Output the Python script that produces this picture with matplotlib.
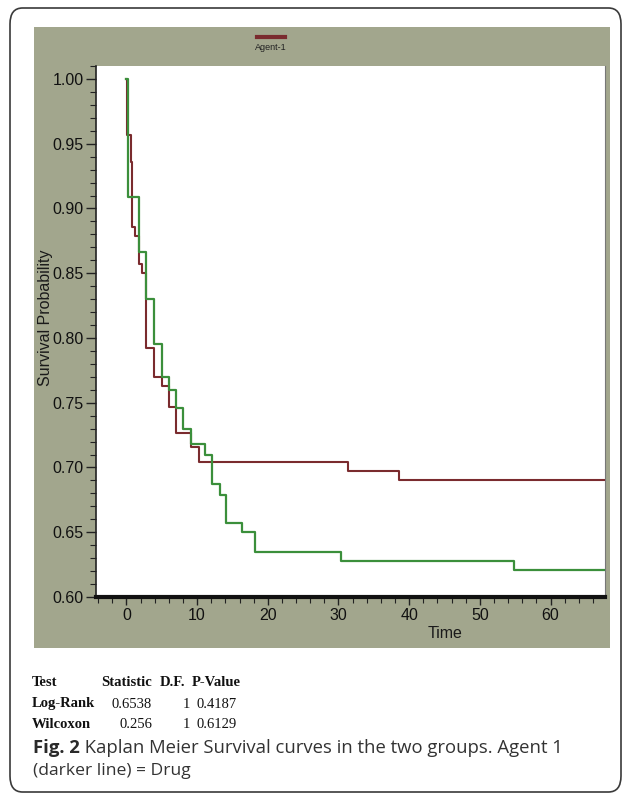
import matplotlib
matplotlib.use("Agg")
import matplotlib.pyplot as plt
from matplotlib.patches import Rectangle, FancyBboxPatch
from matplotlib.lines import Line2D
from matplotlib.ticker import MultipleLocator, FormatStrFormatter

# ---------------- data ----------------
agent1_time = [0, 0.05, 0.6, 0.8, 1.2, 1.8, 2.2, 2.8, 3.9, 5.0, 6.0, 7.0, 9.15, 10.3, 31.4, 38.5, 67.7]
agent1_surv = [1.0, 0.957, 0.936, 0.886, 0.879, 0.857, 0.850, 0.792, 0.770, 0.763, 0.747, 0.727, 0.716, 0.7045, 0.6975, 0.690, 0.690]

agent2_time = [0, 0.2, 1.8, 2.8, 3.9, 5.0, 6.0, 7.0, 8.0, 9.15, 11.1, 12.1, 13.3, 14.1, 16.4, 18.2, 30.4, 54.8, 67.7]
agent2_surv = [1.0, 0.909, 0.866, 0.830, 0.795, 0.770, 0.760, 0.746, 0.730, 0.718, 0.710, 0.687, 0.679, 0.657, 0.650, 0.635, 0.628, 0.621, 0.621]

legend_label = "Agent-1"
x_label = "Time"
y_label = "Survival Probability"

table_header = ["Test", "Statistic", "D.F.", "P-Value"]
table_tests = ["Log-Rank", "Wilcoxon"]
table_stat = ["0.6538", "0.256"]
table_df = ["1", "1"]
table_p = ["0.4187", "0.6129"]

caption_bold = "Fig. 2"
caption_line1 = " Kaplan Meier Survival curves in the two groups. Agent 1"
caption_line2 = "(darker line) = Drug"

# ---------------- layout ----------------
W, H = 627, 799
fig = plt.figure(figsize=(W / 100, H / 100), dpi=100, facecolor="white")

def fx(x):
    return x / W

def fy(y):
    return 1 - y / H

RED = "#7a2b2e"
GREEN = "#3b8f3b"
PANEL = "#a2a68d"

# outer rounded frame
frame = FancyBboxPatch((fx(10), fy(792)), fx(621) - fx(10), fy(8) - fy(792),
                       boxstyle="round,pad=0,rounding_size=0.02",
                       transform=fig.transFigure, fill=False,
                       edgecolor="#3a3a3a", linewidth=1.2, zorder=-2)
fig.patches.append(frame)

# gray panel behind the chart
panel = Rectangle((fx(34), fy(648)), fx(610) - fx(34), fy(27) - fy(648),
                  transform=fig.transFigure, facecolor=PANEL, edgecolor="none", zorder=-1)
fig.patches.append(panel)

# axes
ax_l, ax_r, ax_t, ax_b = 96, 605, 66, 597
ax = fig.add_axes([fx(ax_l), fy(ax_b), fx(ax_r) - fx(ax_l), fy(ax_t) - fy(ax_b)])
ax.set_zorder(5)
ax.set_facecolor("white")

ax.step(agent1_time, agent1_surv, where="post", color=RED, linewidth=1.5, zorder=3)
ax.step(agent2_time, agent2_surv, where="post", color=GREEN, linewidth=1.6, zorder=4)

ax.set_xlim(-4.3, 67.7)
ax.set_ylim(0.60, 1.010)

ax.xaxis.set_major_locator(MultipleLocator(10))
ax.xaxis.set_minor_locator(MultipleLocator(2))
ax.yaxis.set_major_locator(MultipleLocator(0.05))
ax.yaxis.set_minor_locator(MultipleLocator(0.01))
ax.yaxis.set_major_formatter(FormatStrFormatter("%.2f"))

ax.tick_params(axis="both", which="major", direction="out", length=7.5, width=1.0,
               color="#222222", labelcolor="#111111", labelsize=11.5)
ax.tick_params(axis="both", which="minor", direction="out", length=4.5, width=0.8, color="#222222")
ax.tick_params(axis="x", which="major", length=6, pad=2)
ax.tick_params(axis="x", which="minor", length=4)
ax.tick_params(axis="y", which="major", pad=1.5)
for lab in ax.get_xticklabels() + ax.get_yticklabels():
    lab.set_family("Liberation Sans")

ax.spines["top"].set_visible(False)
ax.spines["bottom"].set_linewidth(3.0)
ax.spines["bottom"].set_color("#111111")
ax.spines["left"].set_linewidth(1.2)
ax.spines["left"].set_color("#222222")
ax.spines["right"].set_linewidth(0.8)
ax.spines["right"].set_color("#777777")

# axis labels
fig.text(fx(46), fy(318), y_label, rotation=90, ha="center", va="center",
         family="Liberation Sans", fontsize=11.5, color="#1a1a1a", zorder=6)
fig.text(fx(445), fy(634), x_label, ha="center", va="center",
         family="Liberation Sans", fontsize=11.5, color="#1a1a1a", zorder=6)

# legend
fig.add_artist(Line2D([fx(257), fx(285)], [fy(37), fy(37)], transform=fig.transFigure,
                      color=RED, linewidth=3, zorder=6))
fig.text(fx(271), fy(48), legend_label, ha="center", va="center",
         family="Liberation Sans", fontsize=6.5, color="#222222", zorder=6)

# test table
serif = "Liberation Serif"
ts = 10.5
rows_y = [683, 704, 725]
hdr_x = [32, 101, 160, 192]
for hx, h in zip(hdr_x, table_header):
    fig.text(fx(hx), fy(rows_y[0]), h, ha="left", va="center", family=serif,
             fontsize=ts, fontweight="bold", color="#111111")
for i in range(len(table_tests)):
    y = fy(rows_y[i + 1])
    fig.text(fx(32), y, table_tests[i], ha="left", va="center", family=serif,
             fontsize=ts, fontweight="bold", color="#111111")
    fig.text(fx(152), y, table_stat[i], ha="right", va="center", family=serif,
             fontsize=ts, color="#111111")
    fig.text(fx(186), y, table_df[i], ha="center", va="center", family=serif,
             fontsize=ts, color="#111111")
    fig.text(fx(237), y, table_p[i], ha="right", va="center", family=serif,
             fontsize=ts, color="#111111")

# caption
cap_size = 13.3
t1 = fig.text(fx(33), fy(748), caption_bold, ha="left", va="center", family="Open Sans",
              fontsize=cap_size, fontweight="bold", color="#2a2a2a")
fig.canvas.draw()
bb = t1.get_window_extent()
fig.text(bb.x1 / W, fy(748), caption_line1, ha="left", va="center", family="Open Sans",
         fontsize=cap_size, color="#333333")
fig.text(fx(33), fy(771), caption_line2, ha="left", va="center", family="Open Sans",
         fontsize=12.6, color="#333333")

fig.savefig("out.png", dpi=100, facecolor="white")
